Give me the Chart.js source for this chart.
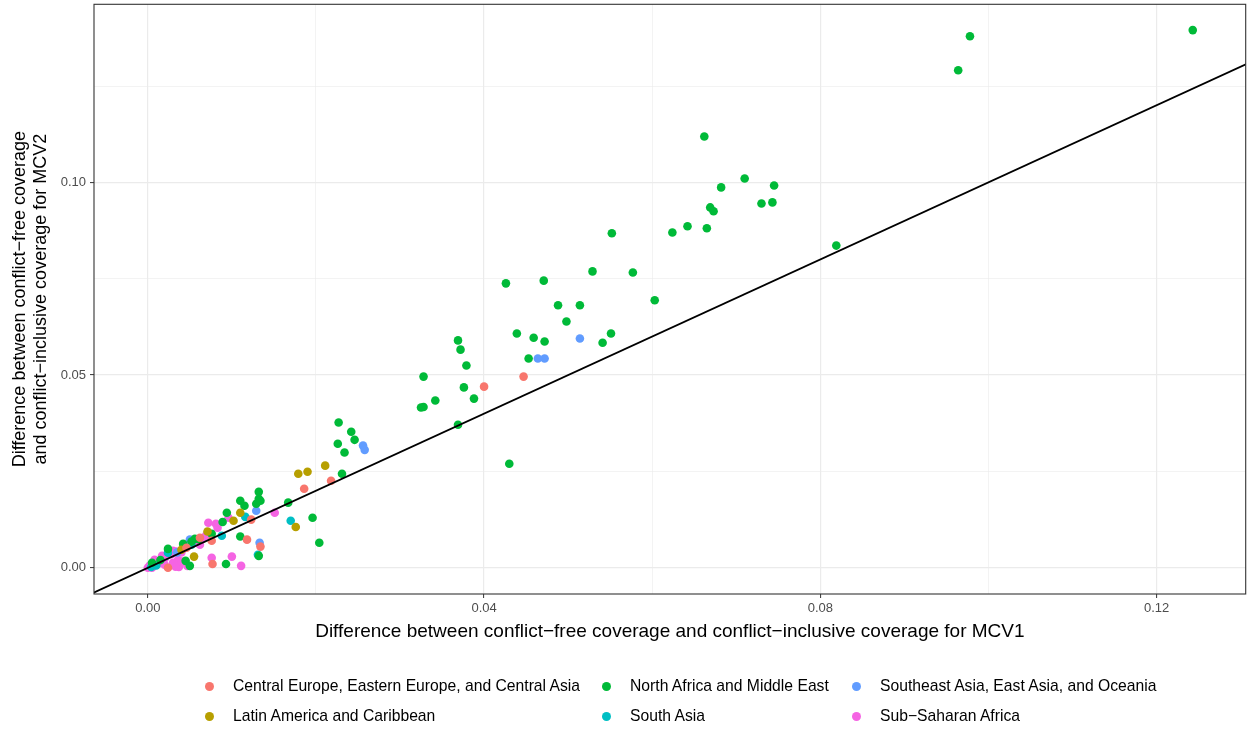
<!DOCTYPE html>
<html>
<head>
<meta charset="utf-8">
<script src="https://cdn.jsdelivr.net/npm/chart.js@4.4.0/dist/chart.umd.min.js"></script>
<style>
    html, body { margin: 0; padding: 0; background: #ffffff; }
    #wrap { position: relative; width: 1250px; height: 729px; font-family: "Liberation Sans", Arial, sans-serif; }
    #mainChart { position: absolute; left: 0; top: 0; }
    .leg-item { position: absolute; height: 20px; line-height: 20px; font-size: 15.7px; color: #000; white-space: nowrap; }
    .leg-dot { position: absolute; width: 9px; height: 9px; border-radius: 50%; left: -28px; top: 5.5px; }
</style>
</head>
<body>
<div id="wrap">
    <canvas id="mainChart" width="1250" height="729"></canvas>
    <div id="legend"></div>
</div>
<script>
// 지역별 MCV1 / MCV2 차이 산점도

const regionNames = [
    'Central Europe, Eastern Europe, and Central Asia',
    'Latin America and Caribbean',
    'North Africa and Middle East',
    'South Asia',
    'Southeast Asia, East Asia, and Oceania',
    'Sub-Saharan Africa'
];
const regionColors = ['#F8766D', '#B79F00', '#00BA38', '#00BFC4', '#619CFF', '#F564E3'];

// [MCV1 차이, MCV2 차이]
const centralEuropeData = [
    [0.0447, 0.0496], [0.0400, 0.0470], [0.0218, 0.0226], [0.0186, 0.0205], [0.0123, 0.0125],
    [0.0118, 0.0073], [0.0134, 0.0055], [0.0076, 0.0070], [0.0077, 0.0010], [0.0046, 0.0052],
    [0.0024, 0.0000], [0.0062, 0.0078]
];
const latinAmericaData = [
    [0.0211, 0.0265], [0.0190, 0.0249], [0.0179, 0.0244], [0.0176, 0.0106], [0.0110, 0.0143],
    [0.0102, 0.0122], [0.0055, 0.0029], [0.0071, 0.0094], [0.0040, 0.0047]
];
const northAfricaData = [
    [0.1243, 0.1395], [0.0978, 0.1379], [0.0964, 0.1291], [0.0819, 0.0836],
    [0.0662, 0.1119], [0.0710, 0.1010], [0.0682, 0.0987], [0.0745, 0.0992], [0.0730, 0.0945],
    [0.0743, 0.0948], [0.0669, 0.0935], [0.0673, 0.0925], [0.0624, 0.0870], [0.0642, 0.0886],
    [0.0665, 0.0881], [0.0552, 0.0868], [0.0529, 0.0769], [0.0577, 0.0766], [0.0603, 0.0694],
    [0.0541, 0.0584], [0.0551, 0.0608],
    [0.0426, 0.0738], [0.0471, 0.0745], [0.0488, 0.0681], [0.0514, 0.0681], [0.0498, 0.0639],
    [0.0439, 0.0608], [0.0459, 0.0597], [0.0472, 0.0587], [0.0453, 0.0543],
    [0.0369, 0.0590], [0.0372, 0.0566], [0.0379, 0.0525], [0.0328, 0.0496], [0.0376, 0.0468],
    [0.0388, 0.0439], [0.0342, 0.0434], [0.0325, 0.0416], [0.0328, 0.0417], [0.0369, 0.0371],
    [0.0430, 0.0270],
    [0.0227, 0.0377], [0.0242, 0.0353], [0.0246, 0.0332], [0.0226, 0.0322], [0.0234, 0.0299],
    [0.0231, 0.0244], [0.0167, 0.0169],
    [0.0132, 0.0197], [0.0132, 0.0179], [0.0110, 0.0174], [0.0115, 0.0161], [0.0129, 0.0166],
    [0.0134, 0.0174], [0.0094, 0.0143], [0.0196, 0.0130], [0.0204, 0.0065], [0.0110, 0.0081],
    [0.0132, 0.0031], [0.0093, 0.0010], [0.0089, 0.0119], [0.0076, 0.0088], [0.0056, 0.0075],
    [0.0042, 0.0062], [0.0024, 0.0049], [0.0005, 0.0013], [0.0045, 0.0018], [0.0050, 0.0005],
    [0.0060, 0.0074], [0.0052, 0.0068], [0.0015, 0.0020]
];
const southAsiaData = [
    [0.0170, 0.0122], [0.0116, 0.0132], [0.0131, 0.0034], [0.0088, 0.0083], [0.0024, 0.0039],
    [0.0010, 0.0006], [0.0052, 0.0060], [0.0004, 0.0002]
];
const southeastAsiaData = [
    [0.0514, 0.0595], [0.0472, 0.0543], [0.0464, 0.0543], [0.0256, 0.0317], [0.0258, 0.0306],
    [0.0129, 0.0148], [0.0133, 0.0065], [0.0050, 0.0073], [0.0035, 0.0040]
];
const subSaharanData = [
    [0.0151, 0.0143], [0.0096, 0.0130], [0.0100, 0.0029], [0.0111, 0.0005], [0.0076, 0.0026],
    [0.0047, 0.0005], [0.0033, 0.0003], [0.0036, 0.0021], [0.0037, 0.0002], [0.0081, 0.0114],
    [0.0083, 0.0104], [0.0072, 0.0117], [0.0069, 0.0083], [0.0053, 0.0068], [0.0062, 0.0060],
    [0.0056, 0.0073], [0.0030, 0.0044], [0.0034, 0.0042], [0.0040, 0.0016], [0.0030, 0.0013],
    [0.0017, 0.0031], [0.0008, 0.0021], [0.0002, 0.0005], [0.0000, 0.0000], [0.0012, 0.0010],
    [0.0020, 0.0008], [0.0028, 0.0035], [0.0040, 0.0040], [0.0058, 0.0070], [0.0065, 0.0075],
    [0.0071, 0.0085], [0.0045, 0.0052], [0.0020, 0.0024], [0.0010, 0.0014], [0.0005, 0.0000]
];
const regionData = [centralEuropeData, latinAmericaData, northAfricaData, southAsiaData, southeastAsiaData, subSaharanData];

// y = x 기준선, 축 범위, 눈금
const refLine = [[-0.01, -0.01], [0.14, 0.14]];
const xRange = [-0.0064, 0.1306];
const yRange = [-0.0068, 0.1462];
const xTickStep = 0.02, xLabelStep = 0.04;
const yTickStep = 0.025, yLabelStep = 0.05;

const isMajor = (v, step) => Math.abs(v / step - Math.round(v / step)) < 1e-6;

const panelBorder = {
    id: 'panelBorder',
    afterDraw(chart) {
        const a = chart.chartArea, c = chart.ctx;
        c.save();
        c.strokeStyle = '#333333';
        c.lineWidth = 1.1;
        c.strokeRect(a.left, a.top, a.right - a.left, a.bottom - a.top);
        c.restore();
    }
};

const datasets = [{
    label: 'y = x',
    data: refLine.map(p => ({x: p[0], y: p[1]})),
    showLine: true,
    borderColor: '#000000',
    borderWidth: 1.8,
    pointRadius: 0,
    clip: 0,
    order: 0
}];
regionNames.forEach((name, i) => {
    datasets.push({
        label: name,
        data: regionData[i].map(p => ({x: p[0], y: p[1]})),
        backgroundColor: regionColors[i],
        borderWidth: 0,
        pointRadius: 4.3,
        order: i + 1
    });
});

const tickFont = { family: '"Liberation Sans", Arial, sans-serif', size: 13 };

try {
    new Chart(document.getElementById('mainChart'), {
        type: 'scatter',
        data: { datasets: datasets },
        options: {
            responsive: false,
            animation: false,
            events: [],
            layout: { padding: { top: 4, right: 2, left: 0, bottom: 0 } },
            plugins: { legend: { display: false }, tooltip: { enabled: false } },
            scales: {
                x: {
                    type: 'linear',
                    min: xRange[0],
                    max: xRange[1],
                    afterFit: s => { s.height = 135; s.paddingLeft = 0; s.paddingRight = 0; },
                    border: { display: false },
                    grid: {
                        color: '#EBEBEB',
                        lineWidth: c => isMajor(c.tick.value, xLabelStep) ? 1.2 : 0.6,
                        tickColor: c => isMajor(c.tick.value, xLabelStep) ? '#333333' : 'rgba(0,0,0,0)',
                        tickLength: 4,
                        tickWidth: 1
                    },
                    ticks: {
                        stepSize: xTickStep,
                        includeBounds: false,
                        autoSkip: false,
                        maxRotation: 0,
                        padding: 3,
                        color: '#4D4D4D',
                        font: tickFont,
                        callback: v => isMajor(v, xLabelStep) ? v.toFixed(2) : ''
                    },
                    title: {
                        display: true,
                        text: 'Difference between conflict−free coverage and conflict−inclusive coverage for MCV1',
                        color: '#000000',
                        font: { family: '"Liberation Sans", Arial, sans-serif', size: 19 },
                        padding: { top: 0, bottom: 85.6 }
                    }
                },
                y: {
                    type: 'linear',
                    min: yRange[0],
                    max: yRange[1],
                    afterFit: s => { s.width = 94; s.paddingTop = 0; s.paddingBottom = 0; },
                    border: { display: false },
                    grid: {
                        color: '#EBEBEB',
                        lineWidth: c => isMajor(c.tick.value, yLabelStep) ? 1.2 : 0.6,
                        tickColor: c => isMajor(c.tick.value, yLabelStep) ? '#333333' : 'rgba(0,0,0,0)',
                        tickLength: 4,
                        tickWidth: 1
                    },
                    ticks: {
                        stepSize: yTickStep,
                        includeBounds: false,
                        autoSkip: false,
                        padding: 4,
                        color: '#4D4D4D',
                        font: tickFont,
                        callback: v => isMajor(v, yLabelStep) ? v.toFixed(2) : ''
                    },
                    title: {
                        display: true,
                        text: ['Difference between conflict−free coverage', 'and conflict−inclusive coverage for MCV2'],
                        color: '#000000',
                        font: { family: '"Liberation Sans", Arial, sans-serif', size: 18 },
                        padding: { top: 9, bottom: 0 }
                    }
                }
            }
        },
        plugins: [panelBorder]
    });
} catch (error) {
    console.error('차트 오류:', error);
}

// 범례 (ggplot 하단 3열 배치)
const legendCols = [233, 630, 880];
const legendRows = [676, 706];
const legendEl = document.getElementById('legend');
regionNames.forEach((name, i) => {
    const col = Math.floor(i / 2), row = i % 2;
    const item = document.createElement('div');
    item.className = 'leg-item';
    item.style.left = legendCols[col] + 'px';
    item.style.top = legendRows[row] + 'px';
    const dot = document.createElement('span');
    dot.className = 'leg-dot';
    dot.style.background = regionColors[i];
    item.appendChild(dot);
    item.appendChild(document.createTextNode(name.replace('Sub-', 'Sub−')));
    legendEl.appendChild(item);
});
</script>
</body>
</html>
